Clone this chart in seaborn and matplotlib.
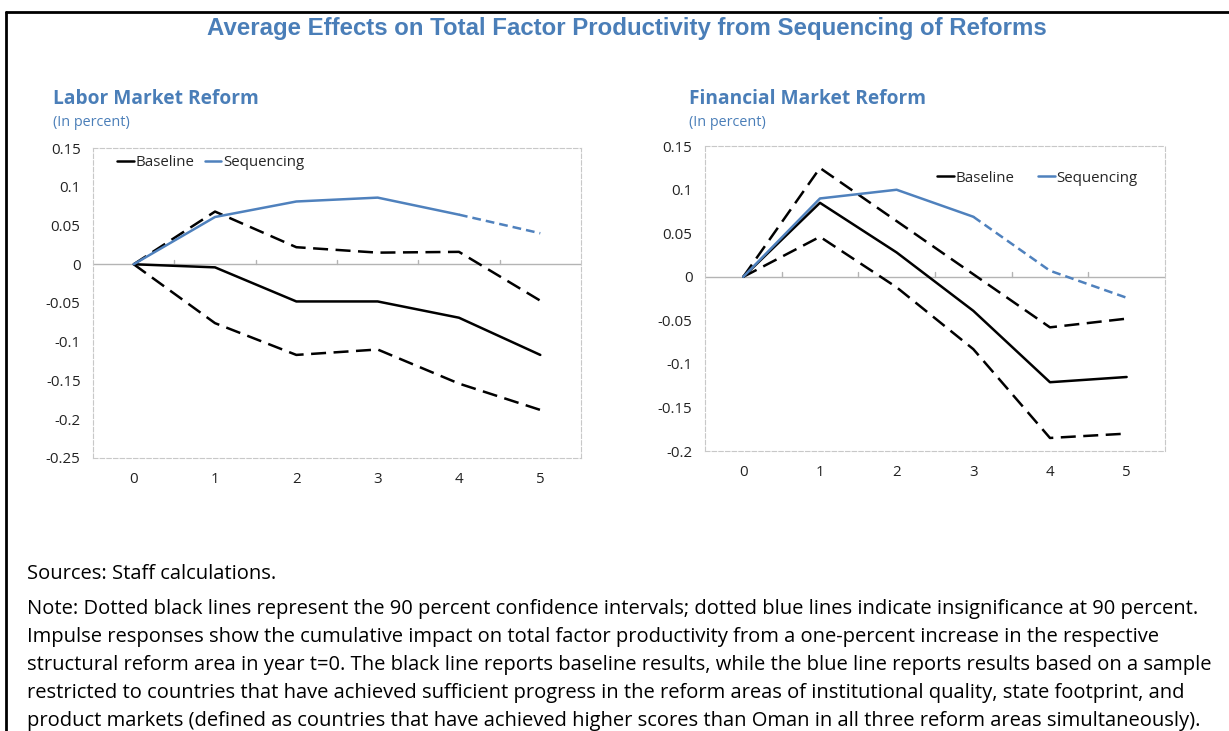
""" Average effects on TFP from sequencing of reforms """

import pandas as pd
import seaborn as sns
import matplotlib.pyplot as plt
from matplotlib.lines import Line2D

# Data
years = [0, 1, 2, 3, 4, 5]

labor_baseline = [0, -0.004, -0.048, -0.048, -0.069, -0.117]
labor_upper = [0, 0.068, 0.022, 0.015, 0.016, -0.047]
labor_lower = [0, -0.076, -0.117, -0.110, -0.154, -0.188]
labor_sequencing = [0, 0.061, 0.081, 0.086, 0.064, 0.040]
labor_signif_until = 4  # blue line dotted after this year

fin_baseline = [0, 0.085, 0.028, -0.039, -0.121, -0.115]
fin_upper = [0, 0.125, 0.064, 0.003, -0.058, -0.048]
fin_lower = [0, 0.046, -0.012, -0.083, -0.185, -0.180]
fin_sequencing = [0, 0.090, 0.100, 0.069, 0.007, -0.024]
fin_signif_until = 3

BLUE = "#4f81bd"
TITLE_BLUE = "#4a7eb8"


def panel(ax, baseline, upper, lower, seq, signif_until, ylim, legend_pos, colspace):
    """ Draws one impulse response panel """
    df = pd.DataFrame({"Year": years, "Baseline": baseline, "Upper": upper,
                       "Lower": lower, "Sequencing": seq})
    sig = df[df["Year"] <= signif_until]
    insig = df[df["Year"] >= signif_until]

    # Zero line with small ticks between categories
    ax.axhline(0, color="#b4b4b4", lw=1.0, zorder=1)
    span = ylim[1] - ylim[0]
    for b in range(len(years) - 1):
        ax.plot([b + 0.5, b + 0.5], [0, span * 0.015], color="#b4b4b4", lw=1.0, zorder=1)

    for col in ["Upper", "Lower"]:
        sns.lineplot(data=df, x="Year", y=col, ax=ax, color="black", lw=1.8,
                     linestyle=(0, (6, 3)), zorder=2)
    sns.lineplot(data=df, x="Year", y="Baseline", ax=ax, color="black", lw=1.8, zorder=3)
    sns.lineplot(data=sig, x="Year", y="Sequencing", ax=ax, color=BLUE, lw=1.8, zorder=4)
    sns.lineplot(data=insig, x="Year", y="Sequencing", ax=ax, color=BLUE, lw=1.8,
                 linestyle=(0, (3.5, 2)), zorder=4)

    ax.set_xlim(-0.5, len(years) - 0.5)
    ax.set_ylim(*ylim)
    ax.set_xticks(years)
    ax.set_xlabel("")
    ax.set_ylabel("")
    ax.yaxis.set_major_formatter(plt.FuncFormatter(lambda v, p: f"{v:g}"))
    ax.tick_params(axis="both", length=0, labelsize=10.8, colors="#222222")
    ax.tick_params(axis="x", pad=10)
    ax.tick_params(axis="y", pad=9)
    ax.grid(False)
    for s in ax.spines.values():
        s.set_visible(True)
        s.set_linestyle((0, (4, 2)))
        s.set_color("#c8c8c8")
        s.set_linewidth(0.8)

    handles = [Line2D([], [], color="black", lw=1.8), Line2D([], [], color=BLUE, lw=1.8)]
    ax.legend(handles, ["Baseline", "Sequencing"], loc="center left",
              bbox_to_anchor=legend_pos, ncol=2, frameon=False, fontsize=10.8,
              handlelength=1.1, handletextpad=0.1, columnspacing=colspace,
              borderaxespad=0, borderpad=0)


if __name__ == "__main__":
    sns.set_style("white")
    plt.rcParams["font.family"] = ["Open Sans", "DejaVu Sans"]
    plt.rcParams["axes.unicode_minus"] = False

    fig = plt.figure(figsize=(12.29, 7.31), dpi=100)
    ax1 = fig.add_axes([0.0757, 0.3735, 0.397, 0.424])
    ax2 = fig.add_axes([0.5736, 0.383, 0.3743, 0.417])

    panel(ax1, labor_baseline, labor_upper, labor_lower, labor_sequencing,
          labor_signif_until, (-0.25, 0.15), (0.05, 0.952), 0.7)
    panel(ax2, fin_baseline, fin_upper, fin_lower, fin_sequencing,
          fin_signif_until, (-0.2, 0.15), (0.505, 0.895), 1.6)

    # Titles
    fig.text(0.51, 0.961, "Average Effects on Total Factor Productivity from Sequencing of Reforms",
             ha="center", va="center", fontsize=17.3, fontweight="bold", color=TITLE_BLUE,
             family="Liberation Sans")
    fig.text(0.0431, 0.864, "Labor Market Reform", ha="left", va="center",
             fontsize=13.8, fontweight="bold", color=TITLE_BLUE)
    fig.text(0.0431, 0.833, "(In percent)", ha="left", va="center", fontsize=10.4, color=TITLE_BLUE)
    fig.text(0.5606, 0.864, "Financial Market Reform", ha="left", va="center",
             fontsize=13.8, fontweight="bold", color=TITLE_BLUE)
    fig.text(0.5606, 0.833, "(In percent)", ha="left", va="center", fontsize=10.4, color=TITLE_BLUE)

    # Footer
    fig.text(0.022, 1 - 574 / 731, "Sources: Staff calculations.", ha="left", va="center",
             fontsize=14.5, color="black")
    note = [
        "Note: Dotted black lines represent the 90 percent confidence intervals; dotted blue lines indicate insignificance at 90 percent.",
        "Impulse responses show the cumulative impact on total factor productivity from a one-percent increase in the respective",
        "structural reform area in year t=0. The black line reports baseline results, while the blue line reports results based on a sample",
        "restricted to countries that have achieved sufficient progress in the reform areas of institutional quality, state footprint, and",
        "product markets (defined as countries that have achieved higher scores than Oman in all three reform areas simultaneously).",
    ]
    for i, line in enumerate(note):
        fig.text(0.022, 1 - (609 + 28 * i) / 731, line, ha="left", va="center",
                 fontsize=14.5, color="black")

    # Frame lines
    fig.add_artist(Line2D([0.0045, 1], [0.983, 0.983], color="black", lw=2))
    fig.add_artist(Line2D([0.0045, 0.0045], [0, 0.983], color="black", lw=2))

    fig.savefig("out.png", dpi=100)
